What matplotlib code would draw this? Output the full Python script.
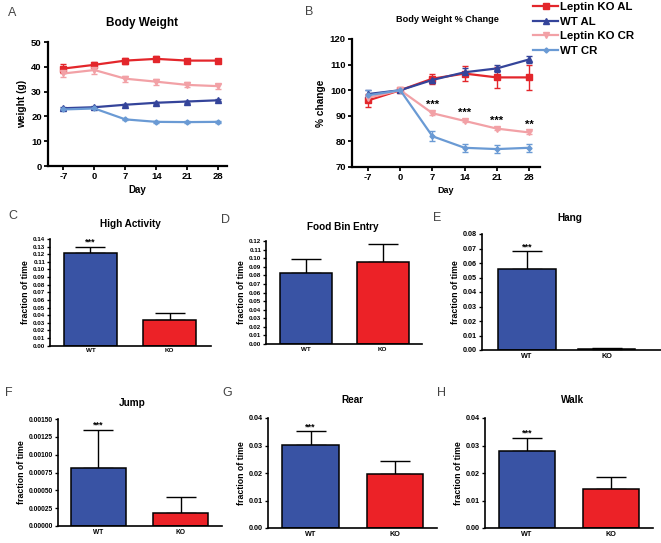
import matplotlib
matplotlib.use("Agg")
import matplotlib.pyplot as plt
import numpy as np

plt.rcParams['font.family'] = ['Liberation Sans', 'DejaVu Sans']
plt.rcParams['font.weight'] = 'bold'
plt.rcParams['axes.labelweight'] = 'bold'
plt.rcParams['axes.unicode_minus'] = False

W, H = 661, 543

# ---------------- data ----------------
days = [-7, 0, 7, 14, 21, 28]
series_names = ["Leptin KO AL", "WT AL", "Leptin KO CR", "WT CR"]

weight_ko_al = [39.3, 40.8, 42.5, 43.2, 42.5, 42.5]
weight_ko_al_err = [2.0, 1.3, 1.2, 1.0, 0.6, 0.5]
weight_wt_al = [23.3, 23.7, 24.7, 25.5, 26.0, 26.5]
weight_wt_al_err = [0.4, 0.3, 0.4, 0.4, 0.4, 0.4]
weight_ko_cr = [37.3, 38.7, 35.2, 34.0, 32.7, 32.2]
weight_ko_cr_err = [1.5, 1.5, 1.2, 1.2, 1.0, 1.0]
weight_wt_cr = [22.8, 23.2, 18.8, 17.8, 17.7, 17.8]
weight_wt_cr_err = [0.4, 0.4, 0.3, 0.3, 0.3, 0.3]

pct_ko_al = [96.0, 100.0, 104.5, 106.5, 105.0, 105.0]
pct_ko_al_err = [2.5, 0.0, 2.0, 3.0, 4.0, 5.0]
pct_wt_al = [98.5, 100.0, 104.0, 107.0, 108.5, 112.0]
pct_wt_al_err = [1.5, 0.0, 1.0, 1.5, 1.5, 1.5]
pct_ko_cr = [97.0, 100.0, 91.0, 88.0, 85.0, 83.5]
pct_ko_cr_err = [0.5, 0.0, 0.5, 0.5, 0.5, 0.5]
pct_wt_cr = [98.0, 100.0, 82.0, 77.5, 77.0, 77.5]
pct_wt_cr_err = [2.0, 0.0, 2.0, 1.5, 1.5, 1.5]
pct_sig_days = [7, 14, 21, 28]
pct_sig_labels = ["***", "***", "***", "**"]

groups = ["WT", "KO"]
high_activity = [0.121, 0.034]
high_activity_err = [0.009, 0.009]
food_bin = [0.083, 0.096]
food_bin_err = [0.016, 0.021]
hang = [0.056, 0.0007]
hang_err = [0.012, 0.0005]
jump = [0.00081, 0.00018]
jump_err = [0.00054, 0.00022]
rear = [0.0303, 0.0195]
rear_err = [0.0049, 0.0047]
walk = [0.0280, 0.0142]
walk_err = [0.0048, 0.0043]

c_red = '#e3262b'
c_blue = '#34449a'
c_pink = '#f2a1a6'
c_lblue = '#6a9ad4'
bar_blue = '#3953a4'
bar_red = '#ec2227'

fig = plt.figure(figsize=(W / 100, H / 100), dpi=100)


def ax_px(l, t, r, b):
    return fig.add_axes([l / W, 1 - b / H, (r - l) / W, (b - t) / H])


def txt(x, y, s, **kw):
    fig.text(x / W, 1 - y / H, s, ha='center', va='center', **kw)


def style_axes(ax, lw=1.5, tick_fs=6.5):
    for s in ['top', 'right']:
        ax.spines[s].set_visible(False)
    for s in ['left', 'bottom']:
        ax.spines[s].set_linewidth(lw)
    ax.tick_params(width=lw * 0.8, length=3, labelsize=tick_fs, pad=1.5)


# ---------------- Panel A ----------------
axA = ax_px(48, 42, 227, 166)
line_specs = [
    (weight_ko_al, weight_ko_al_err, c_red, 's', 4.2),
    (weight_wt_al, weight_wt_al_err, c_blue, '^', 4.2),
    (weight_ko_cr, weight_ko_cr_err, c_pink, 'v', 4.2),
    (weight_wt_cr, weight_wt_cr_err, c_lblue, 'D', 2.6),
]
for vals, errs, col, mk, ms in line_specs:
    axA.errorbar(days, vals, yerr=errs, color=col, marker=mk, ms=ms, lw=1.6,
                 capsize=2.5, elinewidth=1.0, capthick=1.0)
axA.set_xlim(-10.5, 30)
axA.set_ylim(0, 50)
axA.set_xticks(days)
axA.set_yticks([0, 10, 20, 30, 40, 50])
style_axes(axA, lw=1.6, tick_fs=6.8)
axA.set_xlabel('Day', fontsize=7, labelpad=3)
axA.set_ylabel('weight (g)', fontsize=7.3, labelpad=3)
txt(142, 23, 'Body Weight', fontsize=8.5, fontweight='bold')

# ---------------- Panel B ----------------
axB = ax_px(352, 39, 540, 167)
pct_specs = [
    (pct_ko_al, pct_ko_al_err, c_red, 's', 4.2),
    (pct_wt_al, pct_wt_al_err, c_blue, '^', 4.2),
    (pct_ko_cr, pct_ko_cr_err, c_pink, 'v', 4.2),
    (pct_wt_cr, pct_wt_cr_err, c_lblue, 'D', 2.6),
]
handles = []
for (vals, errs, col, mk, ms), name in zip(pct_specs, series_names):
    h = axB.errorbar(days, vals, yerr=errs, color=col, marker=mk, ms=ms, lw=1.6,
                     capsize=2.5, elinewidth=1.0, capthick=1.0, label=name)
    handles.append(h[0])
for d, s in zip(pct_sig_days, pct_sig_labels):
    i = days.index(d)
    axB.text(d, pct_ko_cr[i] + 1.2, s, ha='center', va='bottom', fontsize=8)
axB.set_xlim(-10.5, 30.4)
axB.set_ylim(70, 120)
axB.set_xticks(days)
axB.set_yticks([70, 80, 90, 100, 110, 120])
style_axes(axB, lw=1.6, tick_fs=6.8)
axB.set_xlabel('Day', fontsize=6.5, labelpad=3)
axB.set_ylabel('% change', fontsize=7.3, labelpad=3)
txt(447, 20, 'Body Weight % Change', fontsize=6.6, fontweight='bold')

fig.legend(handles, series_names, loc='upper left', bbox_to_anchor=(532 / W, 1 - 1 / H),
           frameon=False, fontsize=8.2, handlelength=2.2, handletextpad=0.2,
           labelspacing=0.4, borderpad=0.1, borderaxespad=0)


# ---------------- Bar panels ----------------
def bar_panel(rect, vals, errs, ylim, yticks, fmt, title, title_xy, xlim,
              width, sig=True, tick_fs=4.5, lab_fs=6.3):
    ax = ax_px(*rect)
    x = np.arange(len(groups))
    ax.bar(x, vals, width=width, color=[bar_blue, bar_red], edgecolor='black',
           linewidth=1.1, zorder=2)
    ax.errorbar(x, vals, yerr=[[0, 0], errs], fmt='none', ecolor='black',
                elinewidth=1.0, capsize=11, capthick=1.0, zorder=1)
    ax.set_xlim(*xlim)
    ax.set_ylim(*ylim)
    ax.set_yticks(yticks)
    ax.set_yticklabels([fmt.format(v) for v in yticks])
    ax.set_xticks(x)
    ax.set_xticklabels(groups, fontsize=5.5)
    style_axes(ax, lw=1.2, tick_fs=tick_fs)
    ax.tick_params(axis='x', length=0, pad=2)
    ax.tick_params(axis='y', length=2.5, pad=1)
    ax.set_ylabel('fraction of time', fontsize=lab_fs, labelpad=2)
    if sig:
        ax.text(0, vals[0] + errs[0], '***', ha='center', va='bottom', fontsize=6.5)
    txt(title_xy[0], title_xy[1], title, fontsize=7.2, fontweight='bold')
    return ax


bar_panel((50, 239, 211, 345.7), high_activity, high_activity_err, (0, 0.14),
          np.round(np.arange(0, 0.1401, 0.01), 2), '{:.2f}', 'High Activity',
          (130, 224), (-0.51, 1.52), 0.67, tick_fs=4.5)
bar_panel((266, 241, 422, 344), food_bin, food_bin_err, (0, 0.12),
          np.round(np.arange(0, 0.1201, 0.01), 2), '{:.2f}', 'Food Bin Entry',
          (343, 227), (-0.52, 1.51), 0.675, sig=False, tick_fs=4.5)
bar_panel((482, 234, 661, 350), hang, hang_err, (0, 0.08),
          np.round(np.arange(0, 0.0801, 0.01), 2), '{:.2f}', 'Hang',
          (570, 218), (-0.56, 1.68), 0.72, tick_fs=5.2)
bar_panel((58, 419, 222, 526), jump, jump_err, (0, 0.0015),
          np.arange(0, 0.00151, 0.00025), '{:.5f}', 'Jump',
          (132, 403), (-0.49, 1.5), 0.67, tick_fs=4.8)
bar_panel((268, 418, 437, 528), rear, rear_err, (0, 0.04),
          [0.0, 0.01, 0.02, 0.03, 0.04], '{:.2f}', 'Rear',
          (352, 400), (-0.503, 1.497), 0.67, tick_fs=5.2)
bar_panel((485, 418, 653, 528), walk, walk_err, (0, 0.04),
          [0.0, 0.01, 0.02, 0.03, 0.04], '{:.2f}', 'Walk',
          (573, 400), (-0.5, 1.5), 0.67, tick_fs=5.2)

# ---------------- panel letters ----------------
letters = [('A', 12, 13), ('B', 309, 12), ('C', 13, 216), ('D', 226, 220),
           ('E', 437, 218), ('F', 9, 393), ('G', 227, 393), ('H', 442, 393)]
for s, x, y in letters:
    txt(x, y, s, fontsize=9, fontweight='normal', color='#444444')

fig.savefig('out.png', dpi=100)
